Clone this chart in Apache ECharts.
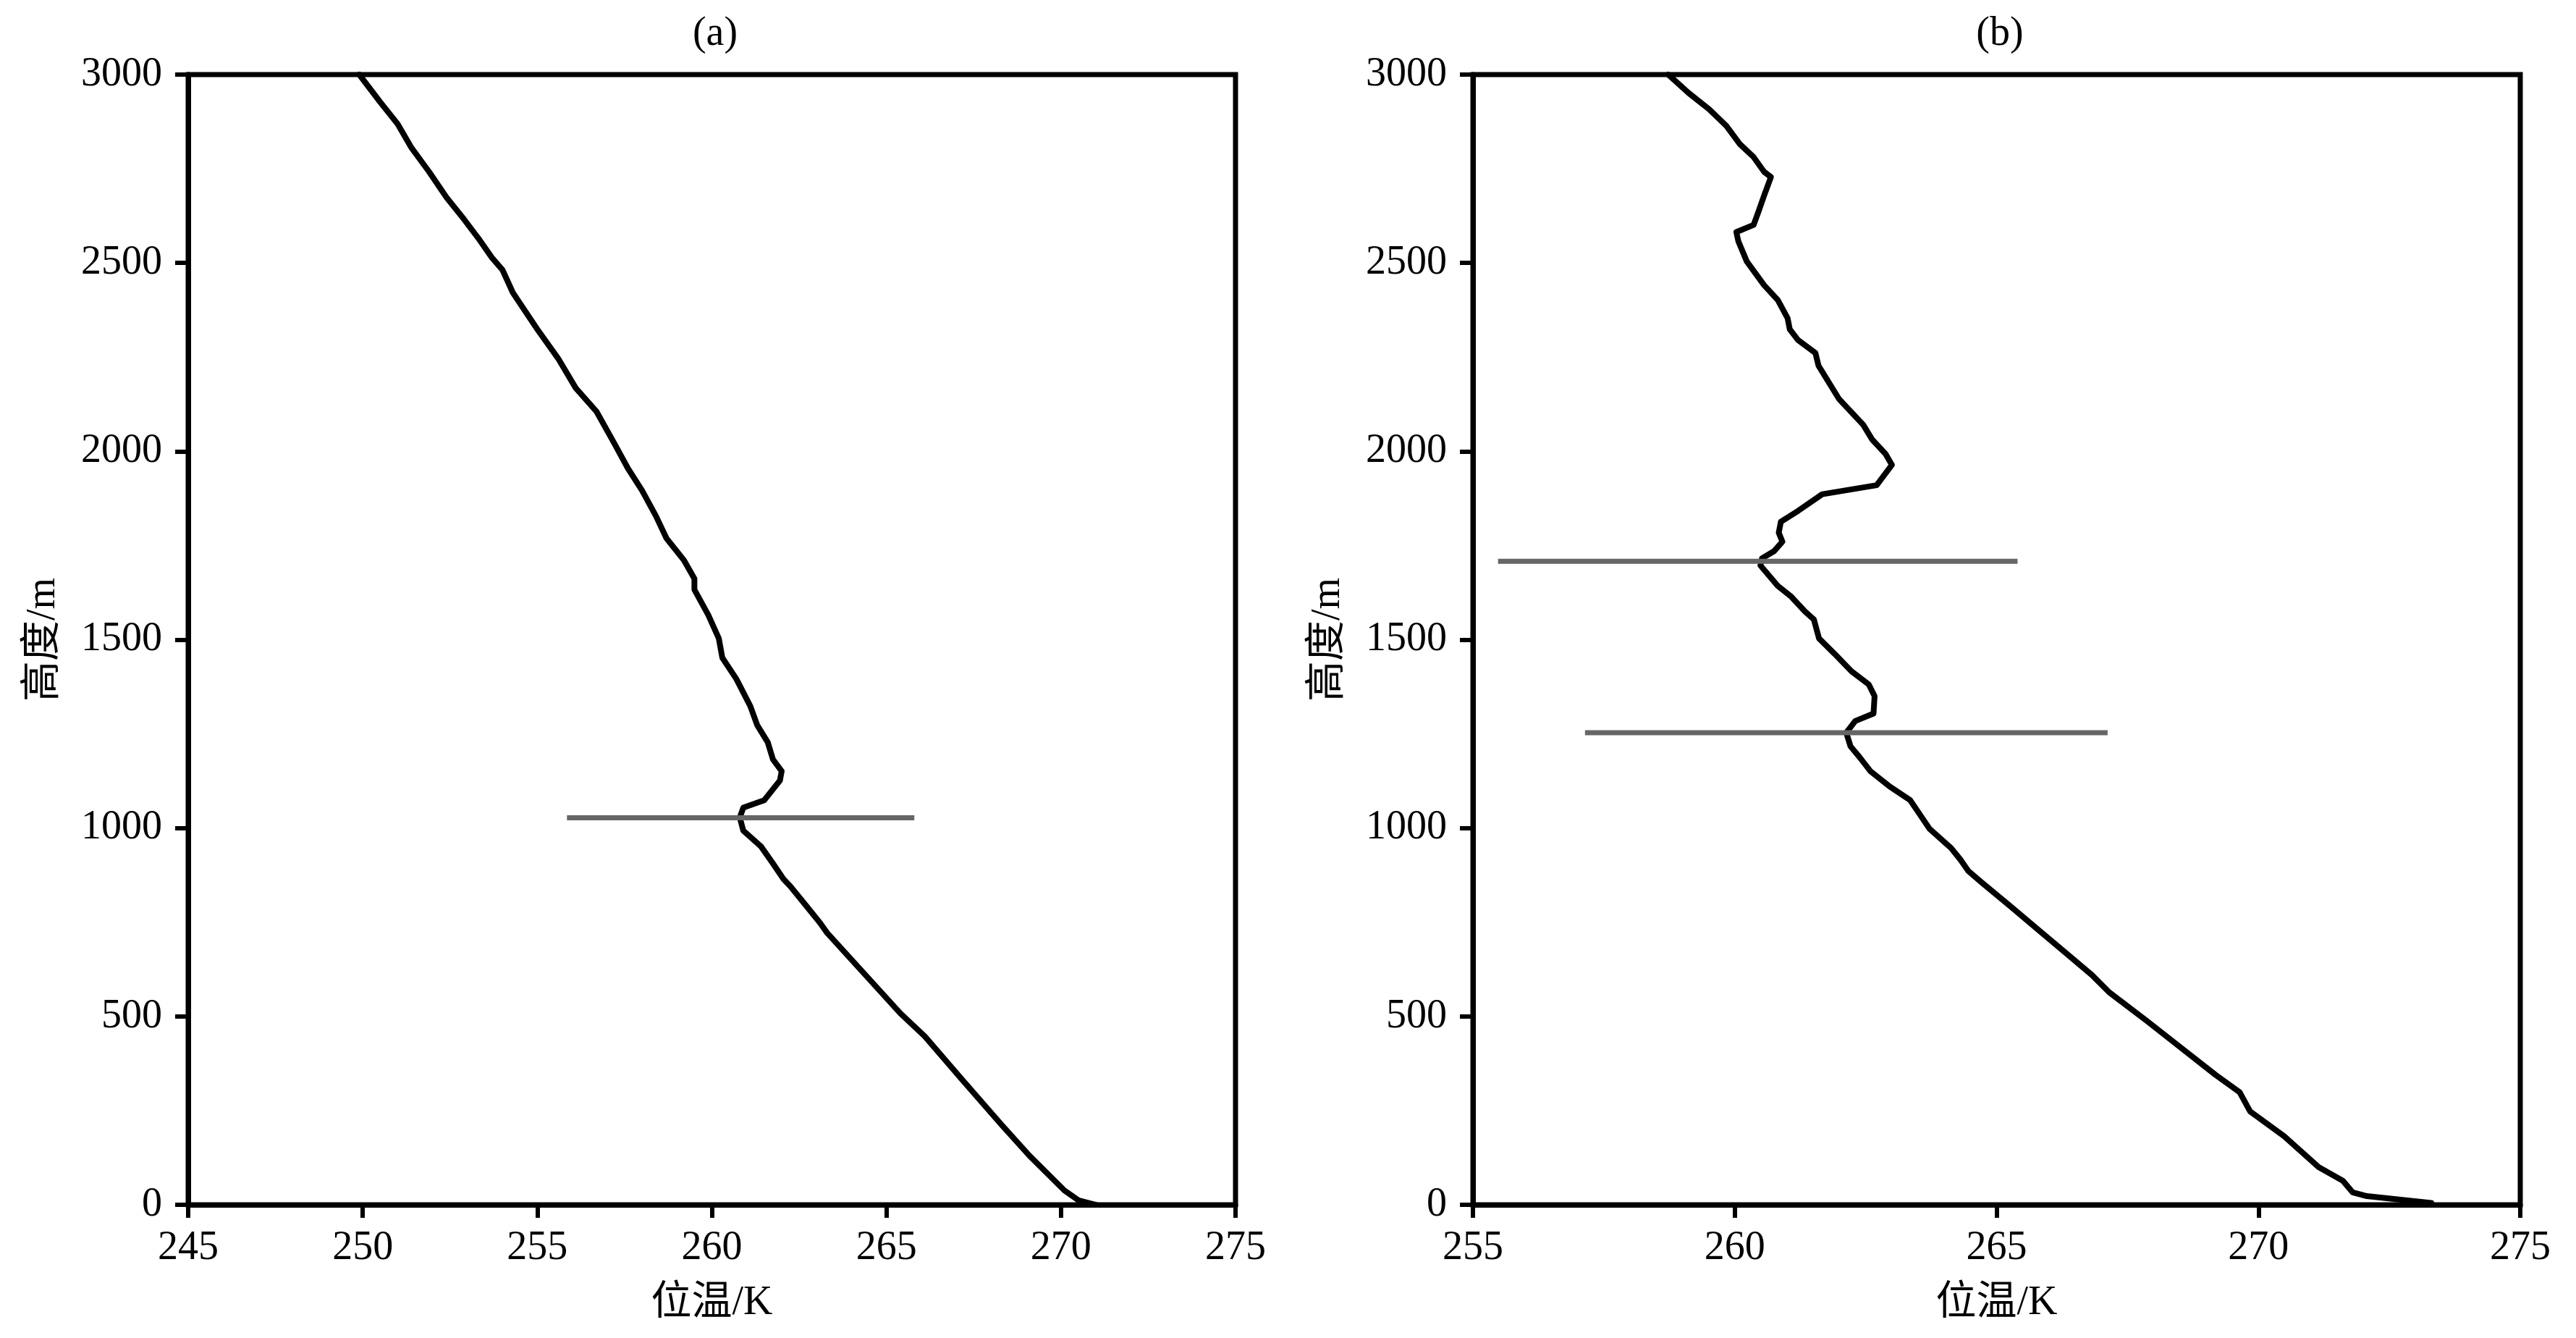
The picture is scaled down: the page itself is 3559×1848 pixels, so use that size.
<!DOCTYPE html>
<html>
<head>
<meta charset="utf-8">
<script src="https://cdn.jsdelivr.net/npm/echarts@6/dist/echarts.min.js"></script>
<style>
html,body{margin:0;padding:0;background:#fff;}
#chart{width:3559px;height:1848px;}
</style>
</head>
<body>
<div id="chart"></div>
<script>
// Panel (a): potential temperature (K) vs height (m)
const aTheta = [249.9,250.5,251.0,251.4,251.9,252.4,252.9,253.3,253.7,254.0,254.3,255.0,255.6,256.1,256.7,257.2,257.6,258.0,258.4,258.7,259.2,259.5,259.5,259.9,260.2,260.3,260.7,261.1,261.3,261.6,261.75,262.0,261.95,261.5,260.9,260.8,260.9,261.4,261.75,262.05,262.25,262.7,263.1,263.3,264.4,265.4,266.1,267.15,268.3,269.1,270.1,270.5,271.0];
const aHeight = [3000,2927,2869,2805,2742,2674,2616,2567,2514,2482,2421,2324,2246,2168,2105,2022,1954,1896,1828,1769,1711,1662,1633,1565,1503,1452,1396,1324,1273,1228,1182,1151,1126,1074,1054,1028,993,952,906,865,845,794,748,722,610,508,447,334,212,130,38,12,0];

// Panel (b)
const bTheta = [258.73,259.12,259.51,259.84,260.10,260.36,260.56,260.69,260.56,260.45,260.36,260.03,260.07,260.23,260.56,260.82,261.01,261.05,261.21,261.54,261.60,261.99,262.45,262.62,262.88,263.00,262.71,261.67,261.21,260.88,260.84,260.91,260.75,260.52,260.49,260.82,261.08,261.34,261.51,261.61,261.91,262.23,262.56,262.67,262.65,262.30,262.13,262.21,262.39,262.59,262.96,263.35,263.52,263.72,264.13,264.31,264.46,264.72,265.25,265.77,266.30,266.82,267.15,267.87,268.53,269.18,269.64,269.84,270.49,271.15,271.61,271.80,272.07,273.3];
const bHeight = [3000,2951,2908,2864,2815,2781,2742,2728,2679,2635,2601,2582,2557,2504,2441,2402,2353,2324,2295,2261,2227,2139,2071,2032,1993,1964,1910,1886,1842,1813,1784,1760,1735,1716,1697,1643,1614,1575,1554,1503,1462,1416,1381,1350,1304,1284,1253,1217,1187,1151,1110,1074,1039,998,947,916,886,855,794,733,671,610,564,488,416,345,299,248,182,100,64,33,23,5];

// Inversion-height marker lines: [height, thetaStart, thetaEnd]
const aMarkHeights = [1027];
const aMarkStart = [255.85];
const aMarkEnd = [265.8];
const bMarkHeights = [1708, 1253];
const bMarkStart = [255.48, 257.14];
const bMarkEnd = [265.4, 267.12];

const panelTitles = ['(a)', '(b)'];
const xMins = [245, 255];
const xMaxs = [275, 275];
const xName = '位温/K';
const yName = '高度/m';

const FONT = '"Liberation Serif", "Times New Roman", "Noto Sans CJK SC", serif';
const FS = 56;

function zip(xs, ys) { return xs.map((x, i) => [x, ys[i]]); }

const grids = [
  {left: 260, right: 1852, top: 103, bottom: 184, show: true, borderColor: '#000', borderWidth: 7, backgroundColor: 'transparent'},
  {left: 2035, right: 77, top: 103, bottom: 184, show: true, borderColor: '#000', borderWidth: 7, backgroundColor: 'transparent'}
];

function xAxisFor(i) {
  return {
    type: 'value', gridIndex: i, min: xMins[i], max: xMaxs[i], interval: 5,
    name: xName, nameLocation: 'middle', nameGap: 108,
    nameTextStyle: {fontFamily: FONT, fontSize: FS, color: '#000'},
    axisLine: {show: true, lineStyle: {color: '#000', width: 7}},
    axisTick: {show: true, inside: false, length: 18, lineStyle: {color: '#000', width: 6}},
    axisLabel: {fontFamily: FONT, fontSize: FS, color: '#000', margin: 32, formatter: v => String(v)},
    splitLine: {show: false}
  };
}
function yAxisFor(i) {
  return {
    type: 'value', gridIndex: i, min: 0, max: 3000, interval: 500,
    name: yName, nameLocation: 'middle', nameGap: 172, nameRotate: 90,
    nameTextStyle: {fontFamily: FONT, fontSize: FS, color: '#000'},
    axisLine: {show: true, lineStyle: {color: '#000', width: 7}},
    axisTick: {show: true, inside: false, length: 18, lineStyle: {color: '#000', width: 6}},
    axisLabel: {fontFamily: FONT, fontSize: FS, color: '#000', margin: 36, formatter: v => String(v)},
    splitLine: {show: false}
  };
}

const series = [];
function curve(i, xs, ys) {
  series.push({
    type: 'line', xAxisIndex: i, yAxisIndex: i, data: zip(xs, ys),
    showSymbol: false, symbol: 'none', smooth: false,
    lineStyle: {color: '#000', width: 8, join: 'round', cap: 'round'}, z: 3
  });
}
function marks(i, hs, s, e) {
  hs.forEach((h, k) => {
    series.push({
      type: 'line', xAxisIndex: i, yAxisIndex: i,
      data: [[s[k], h], [e[k], h]],
      showSymbol: false, symbol: 'none',
      lineStyle: {color: '#666666', width: 7}, z: 4
    });
  });
}
curve(0, aTheta, aHeight);
marks(0, aMarkHeights, aMarkStart, aMarkEnd);
curve(1, bTheta, bHeight);
marks(1, bMarkHeights, bMarkStart, bMarkEnd);

const option = {
  animation: false,
  backgroundColor: '#fff',
  title: [
    {text: panelTitles[0], left: 983, top: 14, textAlign: 'center', textStyle: {fontFamily: FONT, fontSize: FS, fontWeight: 'normal', color: '#000'}},
    {text: panelTitles[1], left: 2758, top: 14, textAlign: 'center', textStyle: {fontFamily: FONT, fontSize: FS, fontWeight: 'normal', color: '#000'}}
  ],
  grid: grids,
  xAxis: [xAxisFor(0), xAxisFor(1)],
  yAxis: [yAxisFor(0), yAxisFor(1)],
  series: series
};

const chart = echarts.init(document.getElementById('chart'));
chart.setOption(option);
</script>
</body>
</html>
